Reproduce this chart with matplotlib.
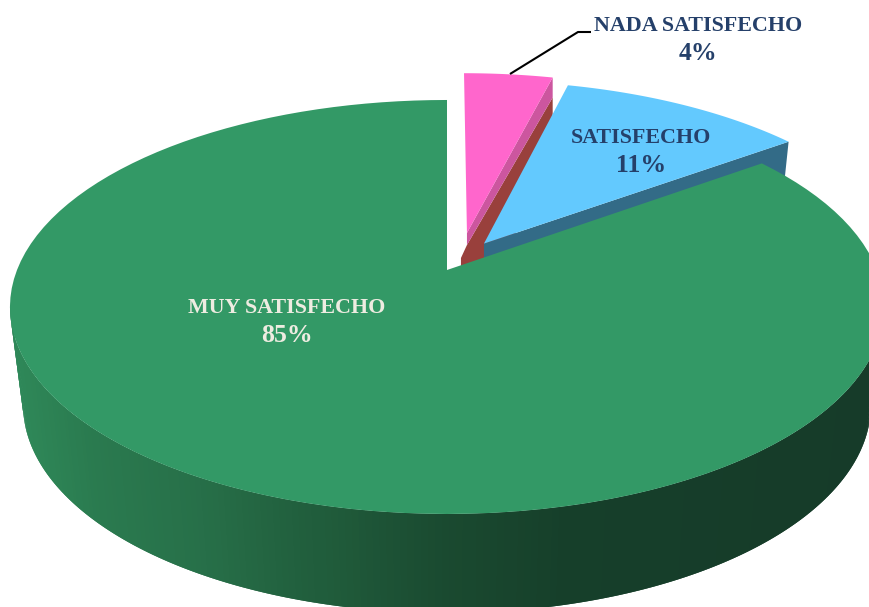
import numpy as np
import matplotlib
matplotlib.use("Agg")
import matplotlib.pyplot as plt
from matplotlib.collections import PolyCollection
from matplotlib.colors import to_rgb

# ---------- data ----------
labels = ["NADA SATISFECHO", "SATISFECHO", "MUY SATISFECHO"]
shares = [4, 11, 85]
label_colors = ["#25406A", "#25406A", "#EEECE1"]

# ---------- style / geometry ----------
top_colors = ["#FF66CC", "#63C9FE", "#339966"]
offsets = [(0.048, 0.191), (0.088, 0.135), (0.0, 0.0)]  # exploded slices, in disk units
label_pos = [(698, 26), (641, 138), (287, 308)]
pct_pos = [(698, 54), (641, 165), (287, 336)]

CX, CY = 447, 270      # where the disk centre lands on screen
A, B, K = 430, 200.4, 0.1787
DEPTH = 98

wall_x = [0, 33, 100, 200, 290, 450, 570, 870]
wall_c = ["#2F8A5B", "#2E8657", "#2A7A4F", "#277049", "#22623F", "#1A4A30", "#163F2A", "#163B29"]
wall_rgb = np.array([to_rgb(c) for c in wall_c])


def project(u, v):
    # perspective map of the flat disk to the screen
    w = 1 + K * v
    return CX + A * u / w, CY - B * v / w


def drop(x, y):
    # same point on the underside of the disk
    return CX + (x - CX) * 0.97, y + DEPTH + (y - 307) * 0.005


def slice_outline(start, end, offset):
    t = np.radians(np.linspace(start, end, 120))
    u = np.r_[0, np.sin(t), 0] + offset[0]
    v = np.r_[0, np.cos(t), 0] + offset[1]
    return np.column_stack(project(u, v))


# slices run clockwise from 12 o'clock
ends = np.cumsum(shares) * 3.6
starts = np.r_[0, ends[:-1]]
outlines = [slice_outline(s, e, o) for s, e, o in zip(starts, ends, offsets)]

fig = plt.figure(figsize=(8.7, 6.07), dpi=100)
ax = fig.add_axes([0, 0, 1, 1])
ax.set_xlim(0, 870)
ax.set_ylim(607, 0)
ax.axis("off")

# pink slice walls
pink = outlines[0]
apex = pink[0]
rim_right = pink[-2]
ax.fill([apex[0], rim_right[0], rim_right[0], apex[0] + 34, apex[0] - 6, apex[0] - 6],
        [apex[1] + 12, rim_right[1] + 20, rim_right[1] + 60, apex[1] + 37, apex[1] + 42, apex[1] + 25],
        color="#99403C", lw=0, zorder=1)
ax.fill([apex[0], rim_right[0], rim_right[0], apex[0]],
        [apex[1], rim_right[1], rim_right[1] + 20, apex[1] + 12],
        color="#CC569F", lw=0, zorder=1.5)

# blue slice wall
blue = outlines[1]
bx, by = drop(blue[-2][0], blue[-2][1])
ax.fill([blue[0][0], blue[-2][0], bx, blue[0][0]],
        [blue[0][1], blue[-2][1], by, blue[0][1] + DEPTH],
        color="#336B87", lw=0, zorder=2)

# big slice outer wall, shaded strip by strip, only the part in front of the rim
t = np.radians(np.linspace(starts[2], ends[2], 400))
x0, y0 = project(np.sin(t), np.cos(t))
keep = y0 >= 300
x0, y0 = x0[keep], y0[keep]
x1, y1 = drop(x0, y0)
quads = []
cols = []
for i in range(len(x0) - 2):
    # each strip overlaps the next one so no seams show
    quads.append([(x0[i], y0[i]), (x0[i + 2], y0[i + 2]), (x1[i + 2], y1[i + 2]), (x1[i], y1[i])])
    xm = (x0[i] + x1[i]) / 2
    cols.append([np.interp(xm, wall_x, wall_rgb[:, j]) for j in range(3)])
ax.add_collection(PolyCollection(quads, facecolors=cols, edgecolors="none", linewidths=0, zorder=3))

# top faces
for poly, color, z in zip(outlines, top_colors, [2.5, 2.5, 4]):
    ax.fill(poly[:, 0], poly[:, 1], color=color, lw=0, zorder=z)

# leader line to the small slice
ax.plot([510, 578, 591], [74, 32, 32], color="black", lw=1.5, zorder=5, solid_capstyle="butt")

for name, share, color, lp, pp in zip(labels, shares, label_colors, label_pos, pct_pos):
    ax.text(lp[0], lp[1], name, color=color, fontsize=15.8, fontweight="bold",
            family="Liberation Serif", ha="center", va="center", zorder=6)
    ax.text(pp[0], pp[1], f"{share}%", color=color, fontsize=18.5, fontweight="bold",
            family="Liberation Serif", ha="center", va="center", zorder=6)

fig.savefig("out.png", dpi=100)
